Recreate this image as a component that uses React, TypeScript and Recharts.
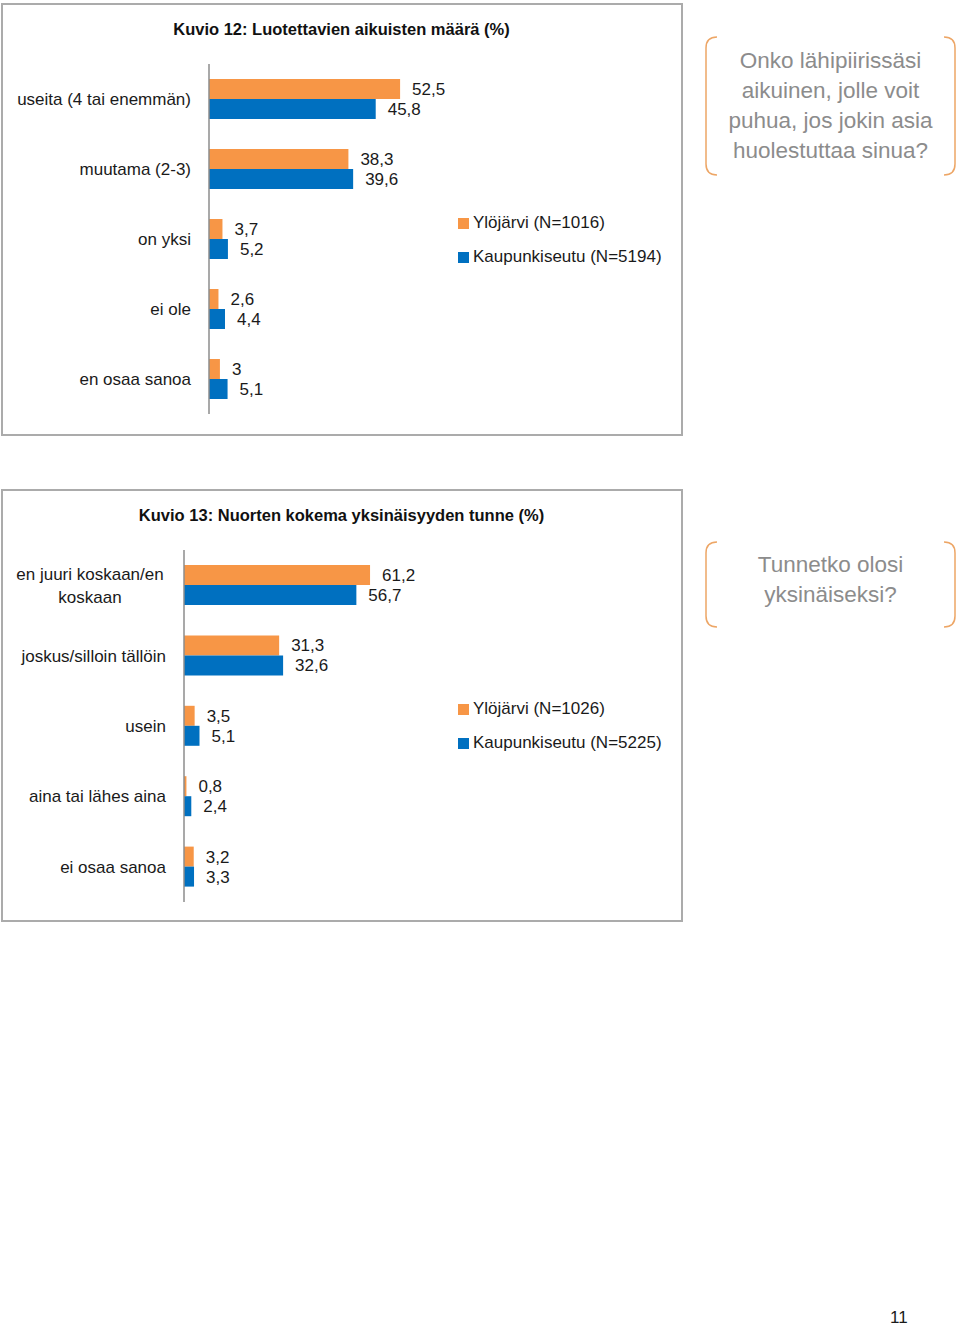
import { Bar, BarChart, LabelList, XAxis, YAxis } from "recharts";

const CATEGORIES_12 = ["useita (4 tai enemmän)", "muutama (2-3)", "on yksi", "ei ole", "en osaa sanoa"];
const YLOJARVI_12 = [52.5, 38.3, 3.7, 2.6, 3];
const KAUPUNKISEUTU_12 = [45.8, 39.6, 5.2, 4.4, 5.1];

const CATEGORIES_13 = ["en juuri koskaan/en koskaan", "joskus/silloin tällöin", "usein", "aina tai lähes aina", "ei osaa sanoa"];
const YLOJARVI_13 = [61.2, 31.3, 3.5, 0.8, 3.2];
const KAUPUNKISEUTU_13 = [56.7, 32.6, 5.1, 2.4, 3.3];

// wrapped category labels, as in the original
const TICK_LINES: Record<string, string[]> = {
  "en juuri koskaan/en koskaan": ["en juuri koskaan/en", "koskaan"]
};

const ORANGE = "#F79646";
const BLUE = "#0070C0";
const TEXT = "#1a1a1a";
const FONT = "'Liberation Sans', Arial, sans-serif";

function fiNumber(value: number) {
  return String(value).replace(".", ",");
}

function buildRows(categories: string[], a: number[], b: number[]) {
  return categories.map((category, i) => ({ category, ylojarvi: a[i], kaupunkiseutu: b[i] }));
}

function CategoryTick({ x, y, payload, gap, wrapCenter }: any) {
  const lines = TICK_LINES[payload.value];
  if (lines) {
    return (
      <text x={wrapCenter} y={y} textAnchor="middle" fill={TEXT} fontSize={17} fontFamily={FONT}>
        {lines.map((line, i) => (
          <tspan key={line} x={wrapCenter} dy={i === 0 ? -5 : 23}>
            {line}
          </tspan>
        ))}
      </text>
    );
  }
  return (
    <text x={x - gap} y={y} dy={6} textAnchor="end" fill={TEXT} fontSize={17} fontFamily={FONT}>
      {payload.value}
    </text>
  );
}

function LegendBox({ top, items }: { top: number; items: { label: string; color: string }[] }) {
  return (
    <div style={{ position: "absolute", left: 458, top, fontFamily: FONT, fontSize: 17, color: TEXT }}>
      {items.map((item) => (
        <div key={item.label} style={{ height: 34, display: "flex", alignItems: "center", whiteSpace: "nowrap" }}>
          <span style={{ width: 11, height: 11, background: item.color, marginRight: 4, display: "inline-block" }} />
          {item.label}
        </div>
      ))}
    </div>
  );
}

type PanelProps = {
  top: number;
  height: number;
  title: string;
  rows: { category: string; ylojarvi: number; kaupunkiseutu: number }[];
  axisWidth: number;
  plotWidth: number;
  plotTop: number;
  plotBottom: number;
  wrapCenter: number;
  legendTop: number;
  legendItems: { label: string; color: string }[];
};

function Panel(p: PanelProps) {
  const width = 683;
  return (
    <div style={{ position: "absolute", left: 0, top: p.top, width, height: p.height }}>
      <div
        style={{
          position: "absolute",
          left: 1,
          top: 0,
          width: width - 1,
          height: p.height,
          border: "2px solid #ababab",
          boxSizing: "border-box"
        }}
      />
      <div
        style={{
          position: "absolute",
          left: 0,
          width,
          top: 17,
          textAlign: "center",
          fontFamily: FONT,
          fontWeight: "bold",
          fontSize: 16.5,
          color: "#111"
        }}
      >
        {p.title}
      </div>
      <div style={{ position: "absolute", left: 0, top: 0 }}>
        <BarChart
          width={width}
          height={p.height}
          data={p.rows}
          layout="vertical"
          barGap={0}
          barSize={20}
          margin={{ top: p.plotTop, bottom: p.plotBottom, left: 0, right: width - p.axisWidth - p.plotWidth }}
        >
          <XAxis type="number" domain={[0, 100]} hide />
          <YAxis
            type="category"
            dataKey="category"
            width={p.axisWidth}
            axisLine={{ stroke: "#8c8c8c", strokeWidth: 1.5 }}
            tickLine={false}
            interval={0}
            tick={<CategoryTick gap={10} wrapCenter={p.wrapCenter} />}
          />
          <Bar dataKey="ylojarvi" fill={ORANGE} isAnimationActive={false}>
            <LabelList
              dataKey="ylojarvi"
              position="right"
              offset={12}
              formatter={(v: number) => fiNumber(v)}
              style={{ fill: TEXT, fontSize: 17, fontFamily: FONT }}
            />
          </Bar>
          <Bar dataKey="kaupunkiseutu" fill={BLUE} isAnimationActive={false}>
            <LabelList
              dataKey="kaupunkiseutu"
              position="right"
              offset={12}
              formatter={(v: number) => fiNumber(v)}
              style={{ fill: TEXT, fontSize: 17, fontFamily: FONT }}
            />
          </Bar>
        </BarChart>
      </div>
      <LegendBox top={p.legendTop} items={p.legendItems} />
    </div>
  );
}

function Callout({ top, height, textTop, lines }: { top: number; height: number; textTop: number; lines: string[] }) {
  const w = 251;
  const r = 12;
  return (
    <div style={{ position: "absolute", left: 705, top, width: w, height }}>
      <svg width={w} height={height} style={{ position: "absolute", left: 0, top: 0 }}>
        <path
          d={`M ${r} 1 Q 1 1 1 ${r} L 1 ${height - r} Q 1 ${height - 1} ${r} ${height - 1}`}
          fill="none"
          stroke="#EDA666"
          strokeWidth={1.5}
        />
        <path
          d={`M ${w - r} 1 Q ${w - 1} 1 ${w - 1} ${r} L ${w - 1} ${height - r} Q ${w - 1} ${height - 1} ${w - r} ${height - 1}`}
          fill="none"
          stroke="#EDA666"
          strokeWidth={1.5}
        />
      </svg>
      <div
        style={{
          position: "absolute",
          left: 0,
          width: w,
          top: textTop,
          textAlign: "center",
          fontFamily: FONT,
          fontSize: 22.5,
          lineHeight: "30px",
          color: "#8c8c8c"
        }}
      >
        {lines.map((line) => (
          <div key={line}>{line}</div>
        ))}
      </div>
    </div>
  );
}

export default function App() {
  return (
    <div style={{ position: "absolute", left: 0, top: 0, width: 960, height: 1327, background: "#fff", overflow: "hidden" }}>
      <Panel
        top={3}
        height={433}
        title="Kuvio 12: Luotettavien aikuisten määrä (%)"
        rows={buildRows(CATEGORIES_12, YLOJARVI_12, KAUPUNKISEUTU_12)}
        axisWidth={209}
        plotWidth={364}
        plotTop={61}
        plotBottom={22}
        wrapCenter={90}
        legendTop={203}
        legendItems={[
          { label: "Ylöjärvi (N=1016)", color: ORANGE },
          { label: "Kaupunkiseutu (N=5194)", color: BLUE }
        ]}
      />
      <Panel
        top={489}
        height={433}
        title="Kuvio 13: Nuorten kokema yksinäisyyden tunne (%)"
        rows={buildRows(CATEGORIES_13, YLOJARVI_13, KAUPUNKISEUTU_13)}
        axisWidth={184}
        plotWidth={304}
        plotTop={61}
        plotBottom={20}
        wrapCenter={90}
        legendTop={203}
        legendItems={[
          { label: "Ylöjärvi (N=1026)", color: ORANGE },
          { label: "Kaupunkiseutu (N=5225)", color: BLUE }
        ]}
      />
      <Callout
        top={36}
        height={140}
        textTop={10}
        lines={["Onko lähipiirissäsi", "aikuinen, jolle voit", "puhua, jos jokin asia", "huolestuttaa sinua?"]}
      />
      <Callout top={541} height={87} textTop={9} lines={["Tunnetko olosi", "yksinäiseksi?"]} />
      <div style={{ position: "absolute", left: 890, top: 1308, fontFamily: FONT, fontSize: 17, color: TEXT }}>11</div>
    </div>
  );
}
